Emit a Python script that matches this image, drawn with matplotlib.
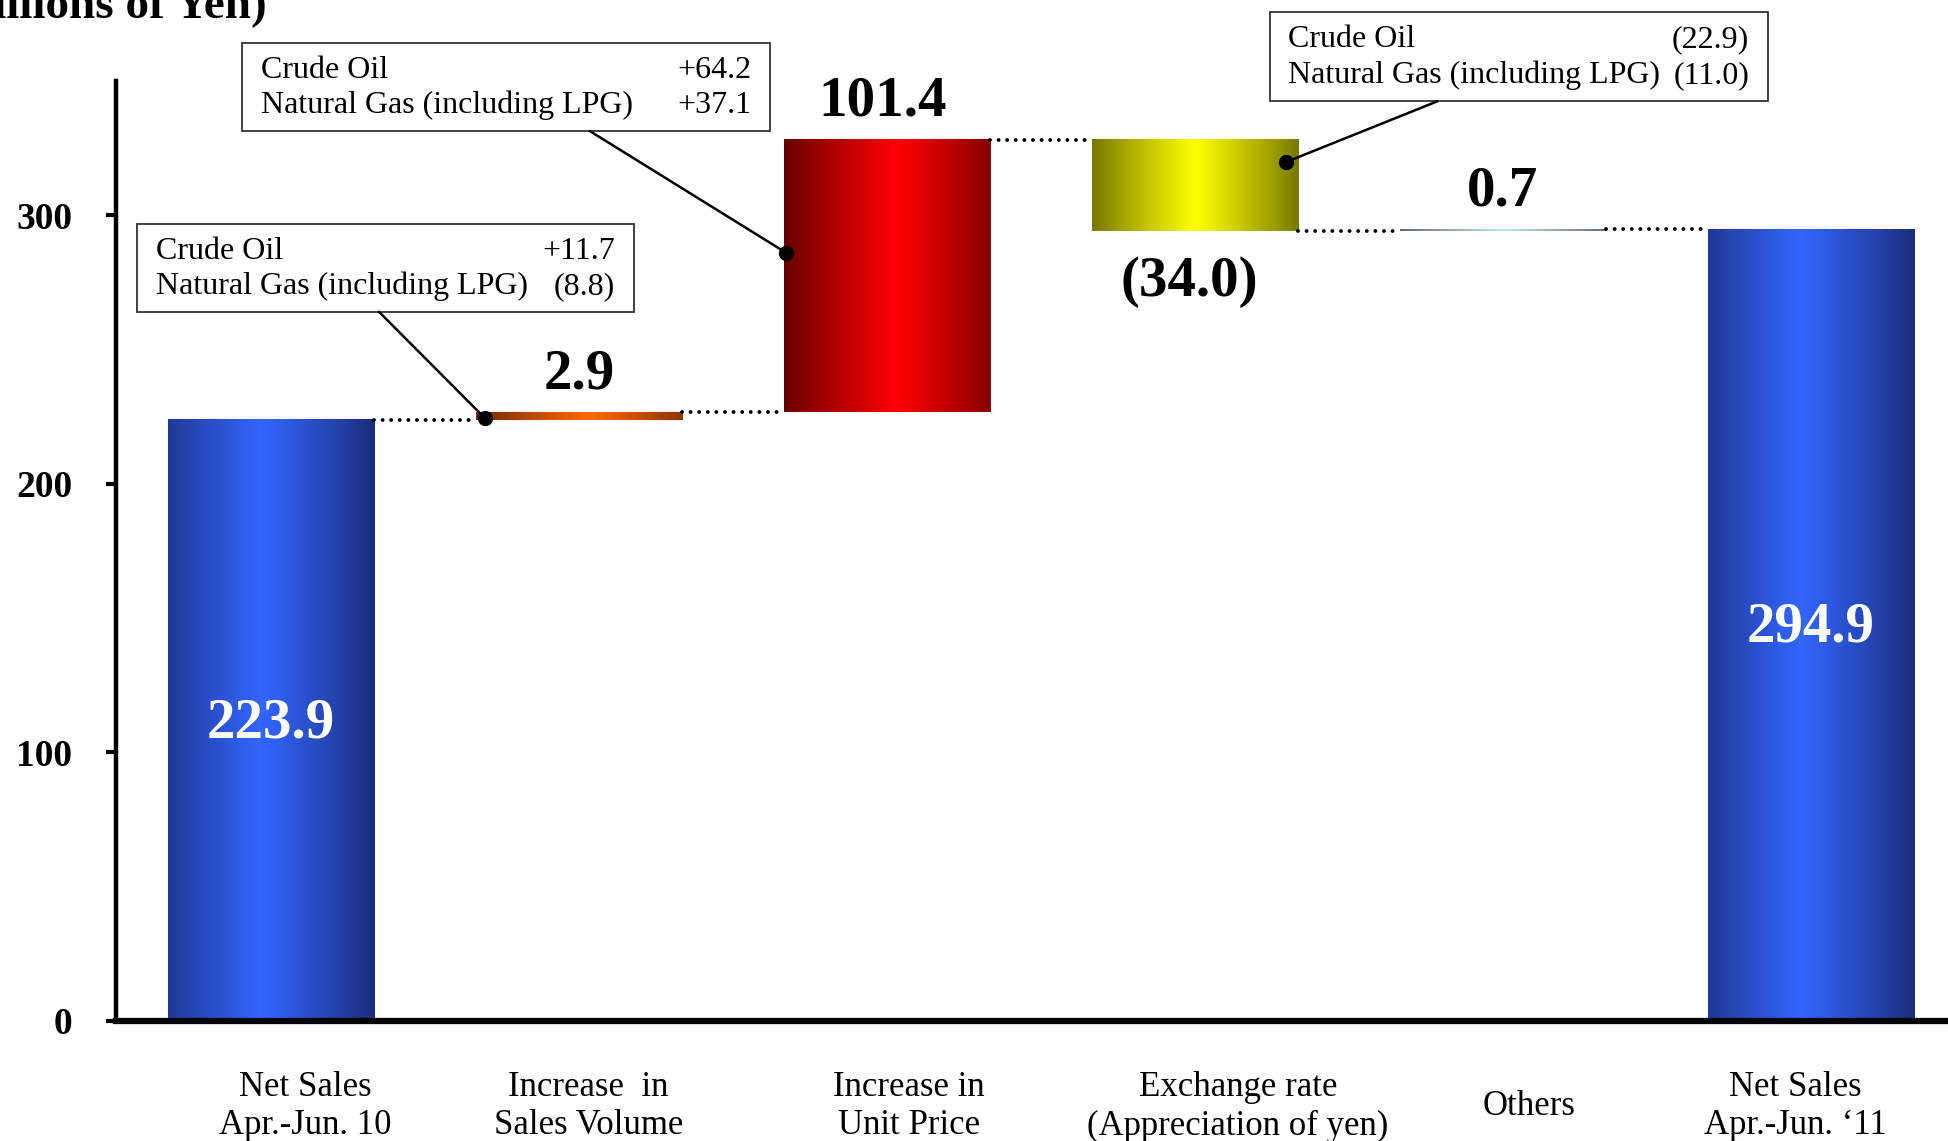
import numpy as np
import matplotlib
matplotlib.use("Agg")
import matplotlib.pyplot as plt
from matplotlib.patches import Rectangle
from matplotlib.colors import to_rgb

# ---------------- data ----------------
categories = ["Net Sales\nApr.-Jun. 10", "Increase  in\nSales Volume", "Increase in\nUnit Price",
              "Exchange rate\n(Appreciation of yen)", "Others", "Net Sales\nApr.-Jun. \u201811"]
values = [223.9, 2.9, 101.4, -34.0, 0.7, 294.9]
is_total = [True, False, False, False, False, True]
value_labels = ["223.9", "2.9", "101.4", "(34.0)", "0.7", "294.9"]
y_ticks = [0, 100, 200, 300]

box_names = ["Crude Oil", "Natural Gas (including LPG)"]
box_sales_volume = ["+11.7", "(8.8)"]
box_unit_price = ["+64.2", "+37.1"]
box_exchange = ["(22.9)", "(11.0)"]

# ---------------- style ----------------
SERIF = ["Liberation Serif", "DejaVu Serif"]
edge_cols = ["#1b2c78", "#6a2800", "#660000", "#767600", "#5a6a6a", "#1b2c78"]
mid_cols = ["#3366ff", "#ff6a00", "#ff0000", "#ffff00", "#c4e6e6", "#3366ff"]
peaks = [0.45, 0.55, 0.55, 0.5, 0.5, 0.45]
label_dx = [0.11, 0.03, 0.07, 0.14, 0.085, -0.05]
value_dx = [0.0, 0.0, -0.015, -0.02, 0.0, 0.0]

fig = plt.figure(figsize=(19.48, 11.41), dpi=100)
ax = fig.add_axes([0.0593, 0.1052, 0.9407, 0.8238])

x = np.arange(len(values))
width = 0.67

# compute bottoms / tops
bottoms, tops, running = [], [], 0.0
levels = []
for v, tot in zip(values, is_total):
    if tot:
        b, t = 0.0, v
        running = v
    else:
        b = running if v >= 0 else running + v
        t = b + abs(v)
        running += v
    bottoms.append(b)
    tops.append(t)
    levels.append(running)

tgrid = np.linspace(0, 1, 256)
for i in range(len(values)):
    e = np.array(to_rgb(edge_cols[i]))
    m = np.array(to_rgb(mid_cols[i]))
    p = peaks[i]
    w = 1 - np.abs(tgrid - p) / max(p, 1 - p)
    w = np.clip(w, 0, 1) ** 0.9
    img = e[None, :] + (m - e)[None, :] * w[:, None]
    ax.imshow(img[None, :, :], extent=(x[i] - width / 2, x[i] + width / 2, bottoms[i], tops[i]),
              aspect="auto", interpolation="bilinear", zorder=2)

# dotted connectors
for i in range(len(values) - 1):
    ax.plot([x[i] + width / 2, x[i + 1] - width / 2], [levels[i], levels[i]], color="black",
            lw=2.8, linestyle=(0, (0.01, 2.2)), dash_capstyle="round", zorder=3)

# value labels
for i in range(len(values)):
    xx = x[i] + value_dx[i]
    if is_total[i]:
        ax.text(xx, tops[i] / 2 - 1, value_labels[i], ha="center", va="center", color="white",
                fontsize=41, fontweight="bold", family=SERIF, zorder=4)
    elif values[i] >= 0:
        ax.text(xx, tops[i] + 14, value_labels[i], ha="center", va="center", color="black",
                fontsize=41, fontweight="bold", family=SERIF, zorder=4)
    else:
        ax.text(xx, bottoms[i] - 19, value_labels[i], ha="center", va="center", color="black",
                fontsize=41, fontweight="bold", family=SERIF, zorder=4)

# category labels
for i, lab in enumerate(categories):
    ax.text(x[i] + label_dx[i], -0.0915, lab, transform=ax.get_xaxis_transform(), ha="center",
            va="center", multialignment="center", fontsize=25, family=SERIF, linespacing=1.2)


# breakdown boxes with leaders
def draw_box(x0, x1, ytop, ybot, vals, start, dot):
    r = Rectangle((x0, ybot), x1 - x0, ytop - ybot, facecolor="white", edgecolor="#333333",
                  lw=1.3, clip_on=False, zorder=5)
    ax.add_patch(r)
    h = ytop - ybot
    for k, (nm, vv) in enumerate(zip(box_names, vals)):
        yy = ytop - h * (0.31 + 0.40 * k)
        ax.text(x0 + 0.06, yy, nm, ha="left", va="center", fontsize=23, family=SERIF,
                zorder=6, clip_on=False)
        ax.text(x1 - 0.06, yy, vv, ha="right", va="center", fontsize=23, family=SERIF,
                zorder=6, clip_on=False)
    ax.plot([start[0], dot[0]], [start[1], dot[1]], color="black", lw=1.8, zorder=5, clip_on=False)
    ax.plot([dot[0]], [dot[1]], "o", color="black", ms=10, zorder=6, clip_on=False)


draw_box(-0.435, 1.177, 296.7, 264.0, box_sales_volume,
         (0.351, 264.0), (x[1] - width / 2 + 0.03, bottoms[1] + 0.5))
draw_box(-0.093, 1.621, 364.1, 331.3, box_unit_price,
         (1.036, 331.3), (x[2] - width / 2 + 0.008, 286.0))
draw_box(3.242, 4.859, 375.6, 342.4, box_exchange,
         (3.786, 342.4), (x[3] + width / 2 - 0.04, 319.8))

# axes styling
ax.set_xlim(-0.505, 5.445)
ax.set_ylim(0, 350)
ax.set_yticks(y_ticks)
ax.set_yticklabels([str(t) for t in y_ticks], fontsize=27, fontweight="bold", family=SERIF)
ax.tick_params(axis="y", direction="out", length=7, width=3, pad=24)
ax.set_xticks([])
for s in ["top", "right"]:
    ax.spines[s].set_visible(False)
ax.spines["left"].set_linewidth(3.2)
ax.spines["bottom"].set_linewidth(4.5)
ax.spines["bottom"].set_zorder(7)

fig.text(267 / 1948, 1 - 18 / 1141, "(Billions of Yen)", ha="right", va="baseline",
         fontsize=34, fontweight="bold", family=SERIF)

fig.savefig("out.png", dpi=100)
